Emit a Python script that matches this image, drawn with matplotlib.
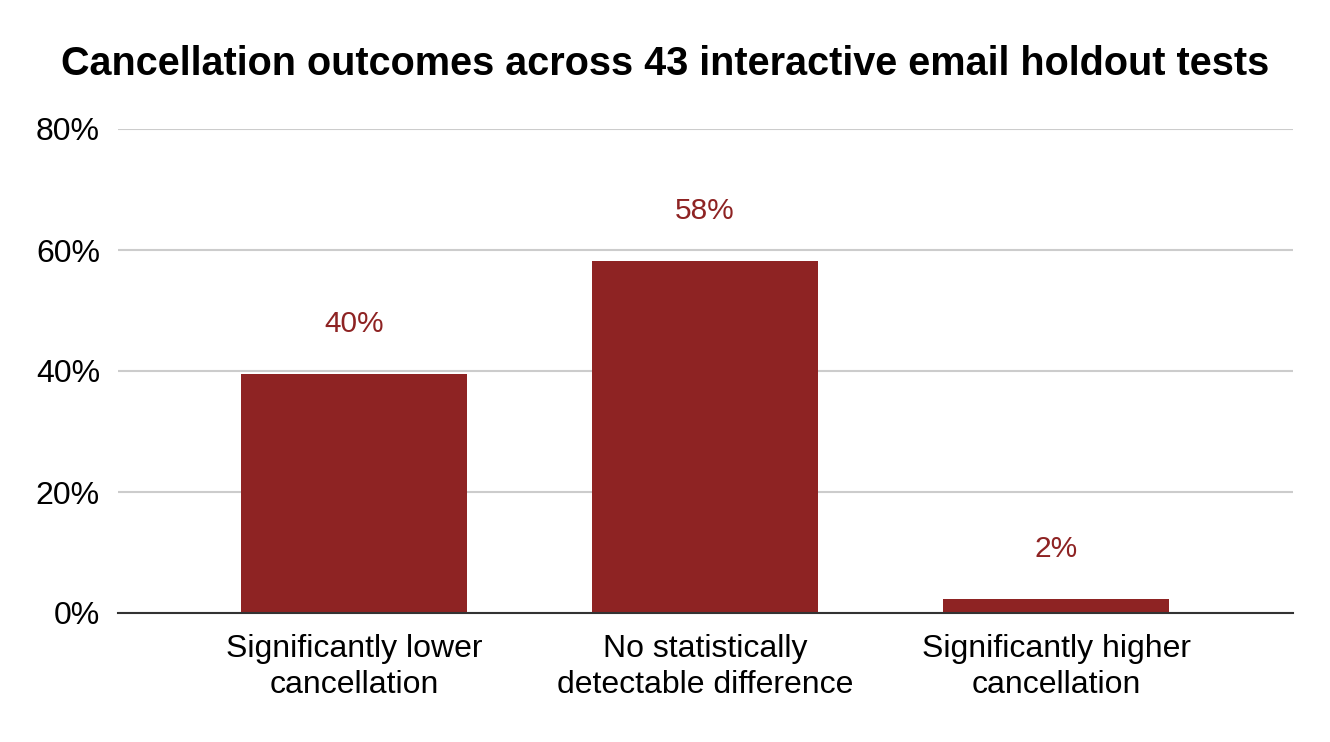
import matplotlib
matplotlib.use("Agg")
import matplotlib.pyplot as plt
from matplotlib.ticker import FuncFormatter

plt.rcParams['font.family'] = ['Liberation Sans', 'DejaVu Sans']

# data
categories = ["Significantly lower\ncancellation",
              "No statistically\ndetectable difference",
              "Significantly higher\ncancellation"]
shares = [39.5, 58.1, 2.3]
share_labels = ["40%", "58%", "2%"]
y_ticks = [0, 20, 40, 60, 80]

bar_col = "#8E2323"

fig = plt.figure(figsize=(13.3, 7.42), dpi=100)
ax = fig.add_axes([118/1330, 1-613/742, 1175/1330, 484/742])

x = list(range(len(categories)))
bars = ax.bar(x, shares, width=0.645, color=bar_col, zorder=3)

for b, lab in zip(bars, share_labels):
    ax.annotate(lab, (b.get_x() + b.get_width()/2, b.get_height()),
                xytext=(0, 36), textcoords="offset points",
                ha="center", va="center", fontsize=21.5, color=bar_col)

ax.set_xlim(-0.672, 2.675)
ax.set_ylim(0, 80)
ax.set_yticks(y_ticks)
ax.yaxis.set_major_formatter(FuncFormatter(lambda v, p: f"{v:.0f}%"))
ax.set_xticks(x)
ax.set_xticklabels(categories, fontsize=23, linespacing=1.27)
ax.tick_params(axis="y", length=0, pad=13, labelsize=23)
ax.tick_params(axis="x", length=0, pad=15)

ax.grid(axis="y", color="#cccccc", linewidth=1.5, zorder=0)
for s in ["top", "right", "left"]:
    ax.spines[s].set_visible(False)
ax.spines["bottom"].set_color("#333333")
ax.spines["bottom"].set_linewidth(1.5)
ax.spines["bottom"].set_zorder(4)

fig.text(0.5, 1-64/742, "Cancellation outcomes across 43 interactive email holdout tests",
         ha="center", va="center", fontsize=28.5, fontweight="bold")

fig.savefig("out.png", dpi=100)
